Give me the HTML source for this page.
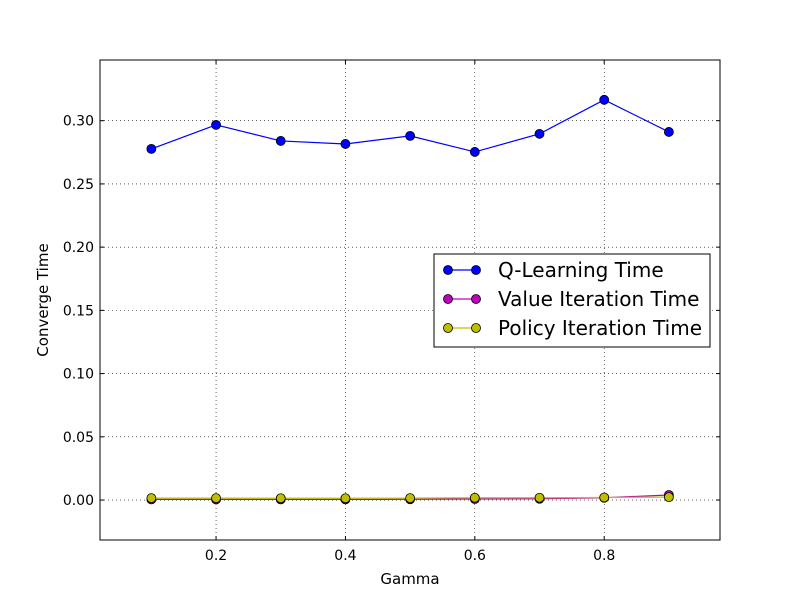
<!DOCTYPE html>
<html><head><meta charset="utf-8"><style>
html,body{margin:0;padding:0;background:#fff;}
svg{display:block;font-family:"DejaVu Sans","Liberation Sans",sans-serif;}
</style></head><body>
<svg id="chart" width="800" height="600"></svg>
<script>
const gammas = [0.1,0.2,0.3,0.4,0.5,0.6,0.7,0.8,0.9];
const qTimes = [0.2777,0.2967,0.2840,0.2816,0.2880,0.2753,0.2896,0.3165,0.2911];
const viTimes = [0.0005,0.0005,0.0005,0.0005,0.0006,0.0008,0.0010,0.0018,0.0040];
const piTimes = [0.0015,0.0015,0.0014,0.0014,0.0015,0.0018,0.0018,0.0020,0.0023];
const xTicks = [0.2,0.4,0.6,0.8];
const yTicks = [0.00,0.05,0.10,0.15,0.20,0.25,0.30];
const seriesNames = ["Q-Learning Time","Value Iteration Time","Policy Iteration Time"];

const NS="http://www.w3.org/2000/svg";
const svg=document.getElementById('chart');
const L=100,R=720,T=60,B=540;
const xMin=0.0206,xMax=0.979,yMin=-0.0316,yMax=0.348;
const xs=v=>L+(v-xMin)/(xMax-xMin)*(R-L);
const ys=v=>B-(v-yMin)/(yMax-yMin)*(B-T);
function mk(tag,attrs,parent){const e=document.createElementNS(NS,tag);for(const k in attrs)e.setAttribute(k,attrs[k]);(parent||svg).appendChild(e);return e;}

const grid=mk('g',{});


xTicks.forEach(t=>{
  mk('line',{x1:xs(t),x2:xs(t),y1:T,y2:B,stroke:'#000','stroke-width':0.6,'stroke-dasharray':'1,3'},grid);
  mk('line',{x1:xs(t),x2:xs(t),y1:B,y2:B-4,stroke:'#000'},grid);
  mk('line',{x1:xs(t),x2:xs(t),y1:T,y2:T+4,stroke:'#000'},grid);
  const tx=mk('text',{x:xs(t),y:B+20,'text-anchor':'middle','font-size':14},grid);tx.textContent=t.toFixed(1);
  
  
});
yTicks.forEach(t=>{
  mk('line',{x1:L,x2:R,y1:ys(t),y2:ys(t),stroke:'#000','stroke-width':0.6,'stroke-dasharray':'1,3'},grid);
  mk('line',{x1:L,x2:L+4,y1:ys(t),y2:ys(t),stroke:'#000'},grid);
  mk('line',{x1:R,x2:R-4,y1:ys(t),y2:ys(t),stroke:'#000'},grid);
  const tx=mk('text',{x:L-6,y:ys(t)+5,'text-anchor':'end','font-size':14},grid);tx.textContent=t.toFixed(2);
  
  
});
const frame=mk('rect',{x:L,y:T,width:R-L,height:B-T,fill:'none',stroke:'#000'});



const series=[[qTimes,'#0000ff','#0000ff'],[viTimes,'#bf00bf','#bf00bf'],[piTimes,'#bfbf00','#bfbf00']];
series.forEach((s,i)=>{
  const g=mk('g',{});
  
  
  mk('polyline',{points:gammas.map((x,j)=>xs(x)+','+ys(s[0][j])).join(' '),fill:'none',stroke:s[1],'stroke-width':1.2},g);
  gammas.forEach((x,j)=>{
    const c=mk('circle',{cx:xs(x),cy:ys(s[0][j]),r:4.5,fill:s[2],stroke:'#000','stroke-width':0.8},g);
    
    
  });
});

const xl=mk('text',{x:410,y:584,'text-anchor':'middle','font-size':15});xl.textContent='Gamma';


const yl=mk('text',{x:48,y:300,'text-anchor':'middle','font-size':15,transform:'rotate(-90 48 300)'});yl.textContent='Converge Time';



const lg=mk('g',{});


mk('rect',{x:434,y:254,width:276,height:93,fill:'#fff',stroke:'#000'},lg);
series.forEach((s,i)=>{
  const y=270+i*29;
  const e=mk('g',{},lg);
  
  
  mk('line',{x1:448,x2:476,y1:y,y2:y,stroke:s[1],'stroke-width':1.2},e);
  mk('circle',{cx:448,cy:y,r:4.5,fill:s[2],stroke:'#000','stroke-width':0.8},e);
  mk('circle',{cx:476,cy:y,r:4.5,fill:s[2],stroke:'#000','stroke-width':0.8},e);
  const t=mk('text',{x:498,y:y+7,'font-size':20},e);t.textContent=seriesNames[i];
});
</script>
</body></html>
